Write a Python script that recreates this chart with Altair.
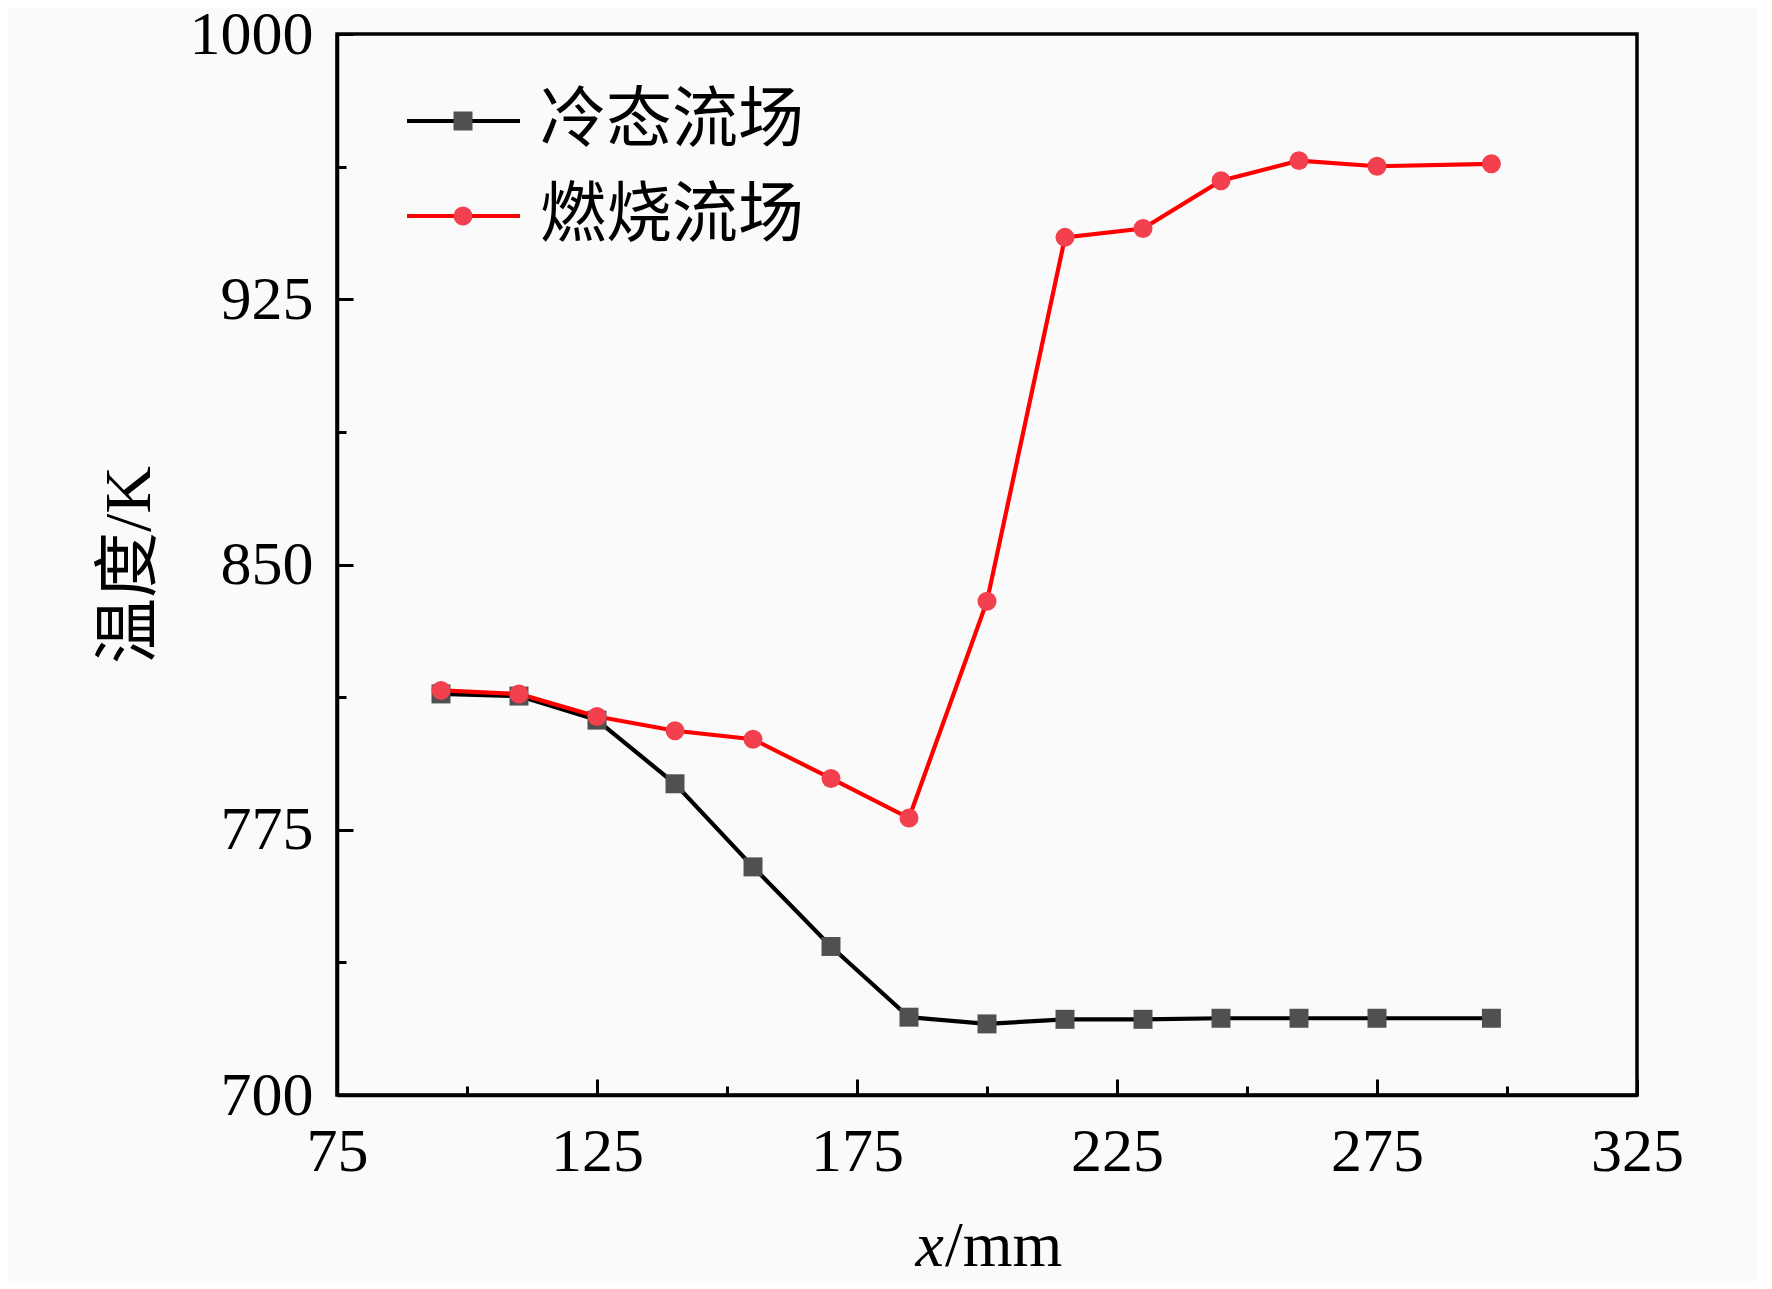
import altair as alt
import pandas as pd

# ---- data ----
x_mm = [95, 110, 125, 140, 155, 170, 185, 200, 215, 230, 245, 260, 275, 297]
cold = [813.4, 812.8, 806.0, 788.0, 764.5, 742.0, 722.0, 720.1, 721.4, 721.4, 721.7, 721.7, 721.7, 721.7]
comb = [814.4, 813.4, 807.0, 803.0, 800.6, 789.5, 778.3, 839.6, 942.5, 945.0, 958.5, 964.2, 962.6, 963.3]
series = ["冷态流场", "燃烧流场"]
line_colors = ["#000000", "#ff0000"]
marker_fill = ["#505050", "#f2404f"]
marker_shape = ["square", "circle"]

x_major = [75, 125, 175, 225, 275, 325]
x_minor = [100, 150, 200, 250, 300]
y_major = [700, 775, 850, 925, 1000]
y_minor = [737.5, 812.5, 887.5, 962.5]

rows = []
for s, vals in zip(series, [cold, comb]):
    for xv, yv in zip(x_mm, vals):
        rows.append({"x": xv, "T": yv, "series": s})
df = pd.DataFrame(rows)

W, H = 1300, 1061
LAT = "Liberation Serif"
MIX = "Liberation Serif, Noto Sans CJK SC"

xs = alt.Scale(domain=[75, 325], nice=False, zero=False)
ys = alt.Scale(domain=[700, 1000], nice=False, zero=False)

base = alt.Chart(df)

lines = base.mark_line(strokeWidth=4.2).encode(
    x=alt.X("x:Q", scale=xs, axis=alt.Axis(
        values=x_major, format="d", ticks=False, grid=False, domainColor="black", domainWidth=3.5,
        labelFont=LAT, labelFontSize=62, labelColor="black", labelPadding=26,
        labelFlush=False, title=None)),
    y=alt.Y("T:Q", scale=ys, axis=alt.Axis(
        values=y_major, format="d", ticks=False, grid=False, domainColor="black", domainWidth=3.5,
        labelFont=LAT, labelFontSize=62, labelColor="black", labelPadding=24,
        title="温度/K", titleFont=MIX, titleFontSize=66, titleFontWeight="normal",
        titleColor="black", titlePadding=26)),
    color=alt.Color("series:N", scale=alt.Scale(domain=series, range=line_colors), legend=None),
    detail="series:N",
)

points = base.mark_point(filled=True, size=360, opacity=1).encode(
    x=alt.X("x:Q", scale=xs, axis=None),
    y=alt.Y("T:Q", scale=ys, axis=None),
    shape=alt.Shape("series:N", scale=alt.Scale(domain=series, range=marker_shape), legend=None),
    fill=alt.Fill("series:N", scale=alt.Scale(domain=series, range=marker_fill), legend=None),
)

def tick_layer(xvals, yvals, size):
    return base.mark_line(opacity=0).encode(
        x=alt.X("x:Q", scale=xs, axis=alt.Axis(
            orient="top", offset=-H, values=xvals, labels=False, domain=False,
            grid=False, tickSize=size, tickWidth=3, tickColor="black", title=None)),
        y=alt.Y("T:Q", scale=ys, axis=alt.Axis(
            orient="right", offset=-W, values=yvals, labels=False, domain=False,
            grid=False, tickSize=size, tickWidth=3, tickColor="black", title=None)),
        detail="series:N",
    )

major_ticks = tick_layer(x_major, y_major, 16)
minor_ticks = tick_layer(x_minor, y_minor, 9)

# x-axis title with italic x
xt1 = alt.Chart(pd.DataFrame({"t": ["x"]})).mark_text(
    font=LAT, fontSize=64, fontStyle="italic", align="right", baseline="alphabetic", color="black"
).encode(text="t:N", x=alt.value(607), y=alt.value(1232))
xt2 = alt.Chart(pd.DataFrame({"t": ["/mm"]})).mark_text(
    font=LAT, fontSize=64, align="left", baseline="alphabetic", color="black"
).encode(text="t:N", x=alt.value(608), y=alt.value(1232))

# legend
legend_layers = []
leg_y = [87, 182]
for i, s in enumerate(series):
    ldf = pd.DataFrame({"t": [s]})
    legend_layers.append(alt.Chart(ldf).mark_rule(color=line_colors[i], strokeWidth=4.2).encode(
        x=alt.value(70), x2=alt.value(183), y=alt.value(leg_y[i])))
    legend_layers.append(alt.Chart(ldf).mark_point(
        filled=True, size=360, opacity=1, shape=marker_shape[i], fill=marker_fill[i]
    ).encode(x=alt.value(126), y=alt.value(leg_y[i])))
    legend_layers.append(alt.Chart(ldf).mark_text(
        font=MIX, fontSize=66, align="left", baseline="middle", color="black"
    ).encode(text="t:N", x=alt.value(203), y=alt.value(leg_y[i])))

chart = alt.layer(lines, major_ticks, minor_ticks, points, xt1, xt2, *legend_layers).resolve_axis(
    x="independent", y="independent"
).properties(
    width=W, height=H,
    autosize=alt.AutoSizeParams(type="none"),
    padding={"left": 329, "top": 26, "right": 120, "bottom": 186},
    background="#fafafa",
).configure_view(stroke="black", strokeWidth=3.5)

chart.save("out.html", embed_options={"renderer": "svg", "actions": False})
